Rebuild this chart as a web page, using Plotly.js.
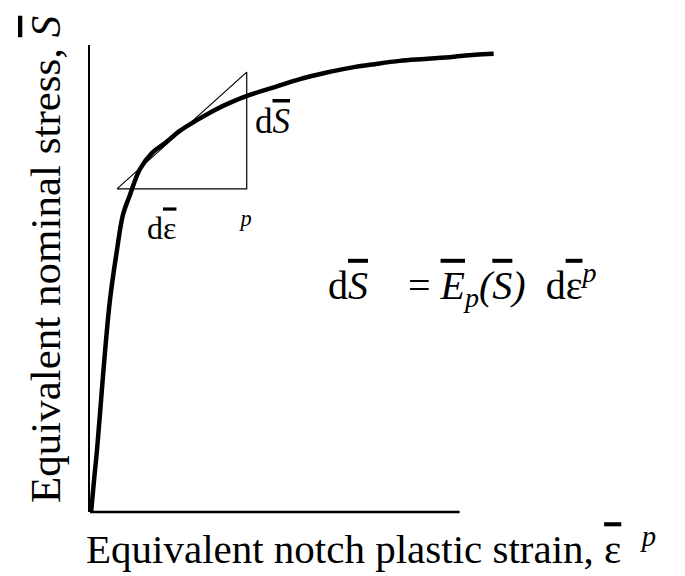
<!DOCTYPE html>
<html>
<head>
<meta charset="utf-8">
<script src="https://cdn.plot.ly/plotly-3.0.1.min.js"></script>
<style>
  html, body { margin: 0; padding: 0; background: #ffffff; }
  #chart { width: 685px; height: 576px; }
</style>
</head>
<body>
<div id="chart"></div>
<script>
// Equivalent notch plastic strain (dimensionless, normalised)
const strain = [0.003, 0.011, 0.019, 0.030, 0.041, 0.054, 0.073, 0.089, 0.108, 0.135,
                0.168, 0.203, 0.243, 0.289, 0.338, 0.378, 0.432, 0.500, 0.568, 0.635,
                0.703, 0.770, 0.838, 0.905, 0.973, 1.041, 1.092];
// Equivalent nominal stress (normalised)
const stress = [0.000, 0.069, 0.133, 0.240, 0.347, 0.454, 0.561, 0.636, 0.679, 0.734,
                0.769, 0.790, 0.816, 0.839, 0.861, 0.876, 0.893, 0.910, 0.927, 0.940,
                0.951, 0.959, 0.966, 0.970, 0.974, 0.979, 0.981];

// Slope triangle: horizontal run, vertical rise, and the tangent as hypotenuse
const tangentX = [0.073, 0.424, 0.424, 0.073];
const tangentY = [0.692, 0.692, 0.942, 0.692];

// Extent of the drawn strain axis
const strainAxisEnd = 1.0;

const SERIF = 'Liberation Serif';
const NB = '\u00a0';
const ol = s => '<span style="text-decoration:overline;text-decoration-thickness:2px">' + s + '</span>';

const traces = [
  {
    x: tangentX, y: tangentY, type: 'scatter', mode: 'lines',
    line: { color: '#000000', width: 1.2 }, hoverinfo: 'skip', showlegend: false
  },
  {
    x: strain, y: stress, type: 'scatter', mode: 'lines',
    line: { color: '#000000', width: 4.5, shape: 'spline', smoothing: 1 },
    hoverinfo: 'skip', showlegend: false
  }
];

const W = 414, H = 467, L = 90, T = 45;
const px = v => (v - L) / W;          // pixel column -> paper x
const py = v => (T + H - v) / H;      // pixel row -> paper y

const layout = {
  width: 685, height: 576,
  margin: { l: L, r: 685 - L - W, t: T, b: 576 - T - H },
  paper_bgcolor: '#ffffff', plot_bgcolor: '#ffffff',
  showlegend: false,
  font: { family: SERIF, color: '#000000' },
  xaxis: {
    range: [0, 1.12], showgrid: false, zeroline: false, showline: false,
    showticklabels: false, ticks: ''
  },
  yaxis: {
    range: [0, 1], showgrid: false, zeroline: false, showline: true,
    linecolor: '#000000', linewidth: 2, showticklabels: false, ticks: ''
  },
  shapes: [
    {
      type: 'line', xref: 'x', yref: 'paper', x0: 0, x1: strainAxisEnd, y0: 0, y1: 0,
      line: { color: '#000000', width: 2.5 }
    }
  ],
  annotations: [
    {
      xref: 'paper', yref: 'paper', x: px(84), y: py(546), xanchor: 'left', yanchor: 'middle',
      showarrow: false, font: { family: SERIF, size: 41, color: '#000000' },
      text: 'Equivalent notch plastic strain, ' + ol('ε') + NB + ' <sup><i>p</i></sup>'
    },
    {
      xref: 'paper', yref: 'paper', x: px(45), y: py(260), xanchor: 'center', yanchor: 'middle',
      textangle: -90, showarrow: false, font: { family: SERIF, size: 43, color: '#000000' },
      text: 'Equivalent nominal stress, ' + ol('<i>S</i>')
    },
    {
      xref: 'paper', yref: 'paper', x: px(253), y: py(121), xanchor: 'left', yanchor: 'middle',
      showarrow: false, font: { family: SERIF, size: 35, color: '#000000' },
      text: 'd' + ol('<i>S</i>')
    },
    {
      xref: 'paper', yref: 'paper', x: px(145), y: py(226), xanchor: 'left', yanchor: 'middle',
      showarrow: false, font: { family: SERIF, size: 32, color: '#000000' },
      text: 'd' + ol('ε') + NB.repeat(7) + ' <sup><i>p</i></sup>'
    },
    {
      xref: 'paper', yref: 'paper', x: px(326), y: py(285), xanchor: 'left', yanchor: 'middle',
      showarrow: false, font: { family: SERIF, size: 40, color: '#000000' },
      text: 'd' + ol('<i>S</i>') + NB.repeat(3) + ' = ' + ol('<i>E</i>') + '<sub><i>p</i></sub>' +
            '<i>(</i>' + ol('<i>S</i>') + '<i>)</i>' + NB + ' d' + ol('ε') + '<sup><i>p</i></sup>'
    }
  ]
};

Plotly.newPlot('chart', traces, layout, { displayModeBar: false, staticPlot: true });
</script>
</body>
</html>
